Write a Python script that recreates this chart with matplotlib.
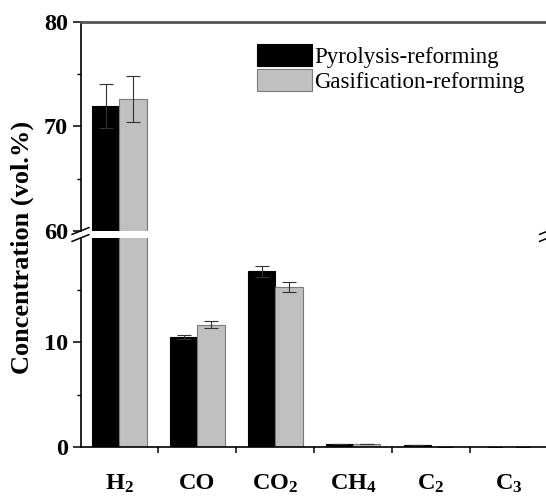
import numpy as np
import matplotlib
matplotlib.use('Agg')
import matplotlib.pyplot as plt

# data
gases = ['H$_2$', 'CO', 'CO$_2$', 'CH$_4$', 'C$_2$', 'C$_3$']
pyro = [72.0, 10.5, 16.8, 0.30, 0.20, 0.0]
pyro_err = [2.1, 0.2, 0.55, 0.0, 0.0, 0.0]
gasi = [72.6, 11.7, 15.3, 0.25, 0.0, 0.0]
gasi_err = [2.2, 0.35, 0.45, 0.0, 0.0, 0.0]
series_names = ['Pyrolysis-reforming', 'Gasification-reforming']

plt.rcParams['font.family'] = 'Liberation Serif'
plt.rcParams['mathtext.fontset'] = 'custom'
plt.rcParams['mathtext.bf'] = 'Liberation Serif:bold'
plt.rcParams['mathtext.rm'] = 'Liberation Serif:bold'
plt.rcParams['mathtext.default'] = 'bf'

W, H = 546., 500.
fig = plt.figure(figsize=(W / 100, H / 100), dpi=100)
left = 80.5 / W
width = 467.5 / W
ax_top = fig.add_axes([left, 1 - 231 / H, width, 209 / H])
ax_bot = fig.add_axes([left, 1 - 446.7 / H, width, 208.7 / H])

x = np.arange(1, len(gases) + 1)
bw = 0.35
err_kw = dict(ecolor='#333333', elinewidth=0.8, capsize=5, capthick=0.8)
for ax in (ax_top, ax_bot):
    ax.bar(x - bw / 2, pyro, bw, yerr=pyro_err, color='black',
           edgecolor='black', linewidth=0.8, error_kw=err_kw,
           label=series_names[0])
    ax.bar(x + bw / 2, gasi, bw, yerr=gasi_err, color='#c0c0c0',
           edgecolor='#7a7a7a', linewidth=0.8, error_kw=err_kw,
           label=series_names[1])
    ax.set_xlim(0.5, 6.5)
    for s in ax.spines.values():
        s.set_linewidth(1.2)
    ax.tick_params(axis='y', which='major', direction='out', length=6,
                   width=1.1, pad=3, labelsize=17.5)
    ax.tick_params(axis='y', which='minor', direction='out', length=3,
                   width=1.0)

ax_top.set_ylim(60, 80)
ax_top.set_yticks([60, 70, 80])
ax_top.set_yticks([65, 75], minor=True)
ax_top.set_yticklabels(['60', '70', '80'], fontweight='bold')
ax_top.spines['bottom'].set_visible(False)
ax_top.spines['top'].set_color('#555555')
ax_top.spines['top'].set_linewidth(2.0)
ax_top.tick_params(axis='x', which='both', bottom=False, labelbottom=False)

ax_bot.set_ylim(0, 20)
ax_bot.set_yticks([0, 10])
ax_bot.set_yticks([5, 15], minor=True)
ax_bot.set_yticklabels(['0', '10'], fontweight='bold')
ax_bot.spines['top'].set_visible(False)
ax_bot.set_xticks(np.arange(1.5, 6.5, 1.0))
ax_bot.set_xticklabels([])
ax_bot.set_xticks(x, minor=True)
ax_bot.set_xticklabels(gases, minor=True, fontweight='bold', fontsize=17.5)
ax_bot.tick_params(axis='x', which='major', direction='out', length=4,
                   width=1.1)
ax_bot.tick_params(axis='x', which='minor', length=0, pad=19)

# break marks
d = 0.018
kw = dict(color='black', lw=1.1, clip_on=False)
for xx in (0, 1):
    ax_top.plot([xx - d, xx + d], [-d * 0.9, d * 0.9],
                transform=ax_top.transAxes, **kw)
    ax_bot.plot([xx - d, xx + d], [1 - d * 0.9, 1 + d * 0.9],
                transform=ax_bot.transAxes, **kw)

ax_top.legend(loc='upper left', bbox_to_anchor=(257 / W, 1 - 44 / H),
              bbox_transform=fig.transFigure, frameon=False, fontsize=16.5,
              handlelength=2.4, handleheight=1.1, handletextpad=0.1,
              labelspacing=0.05, borderpad=0, borderaxespad=0)

fig.text(22 / W, 1 - 247 / H, 'Concentration (vol.%)', rotation=90,
         ha='center', va='center', fontsize=19, fontweight='bold')

fig.savefig('out.png', dpi=100)
